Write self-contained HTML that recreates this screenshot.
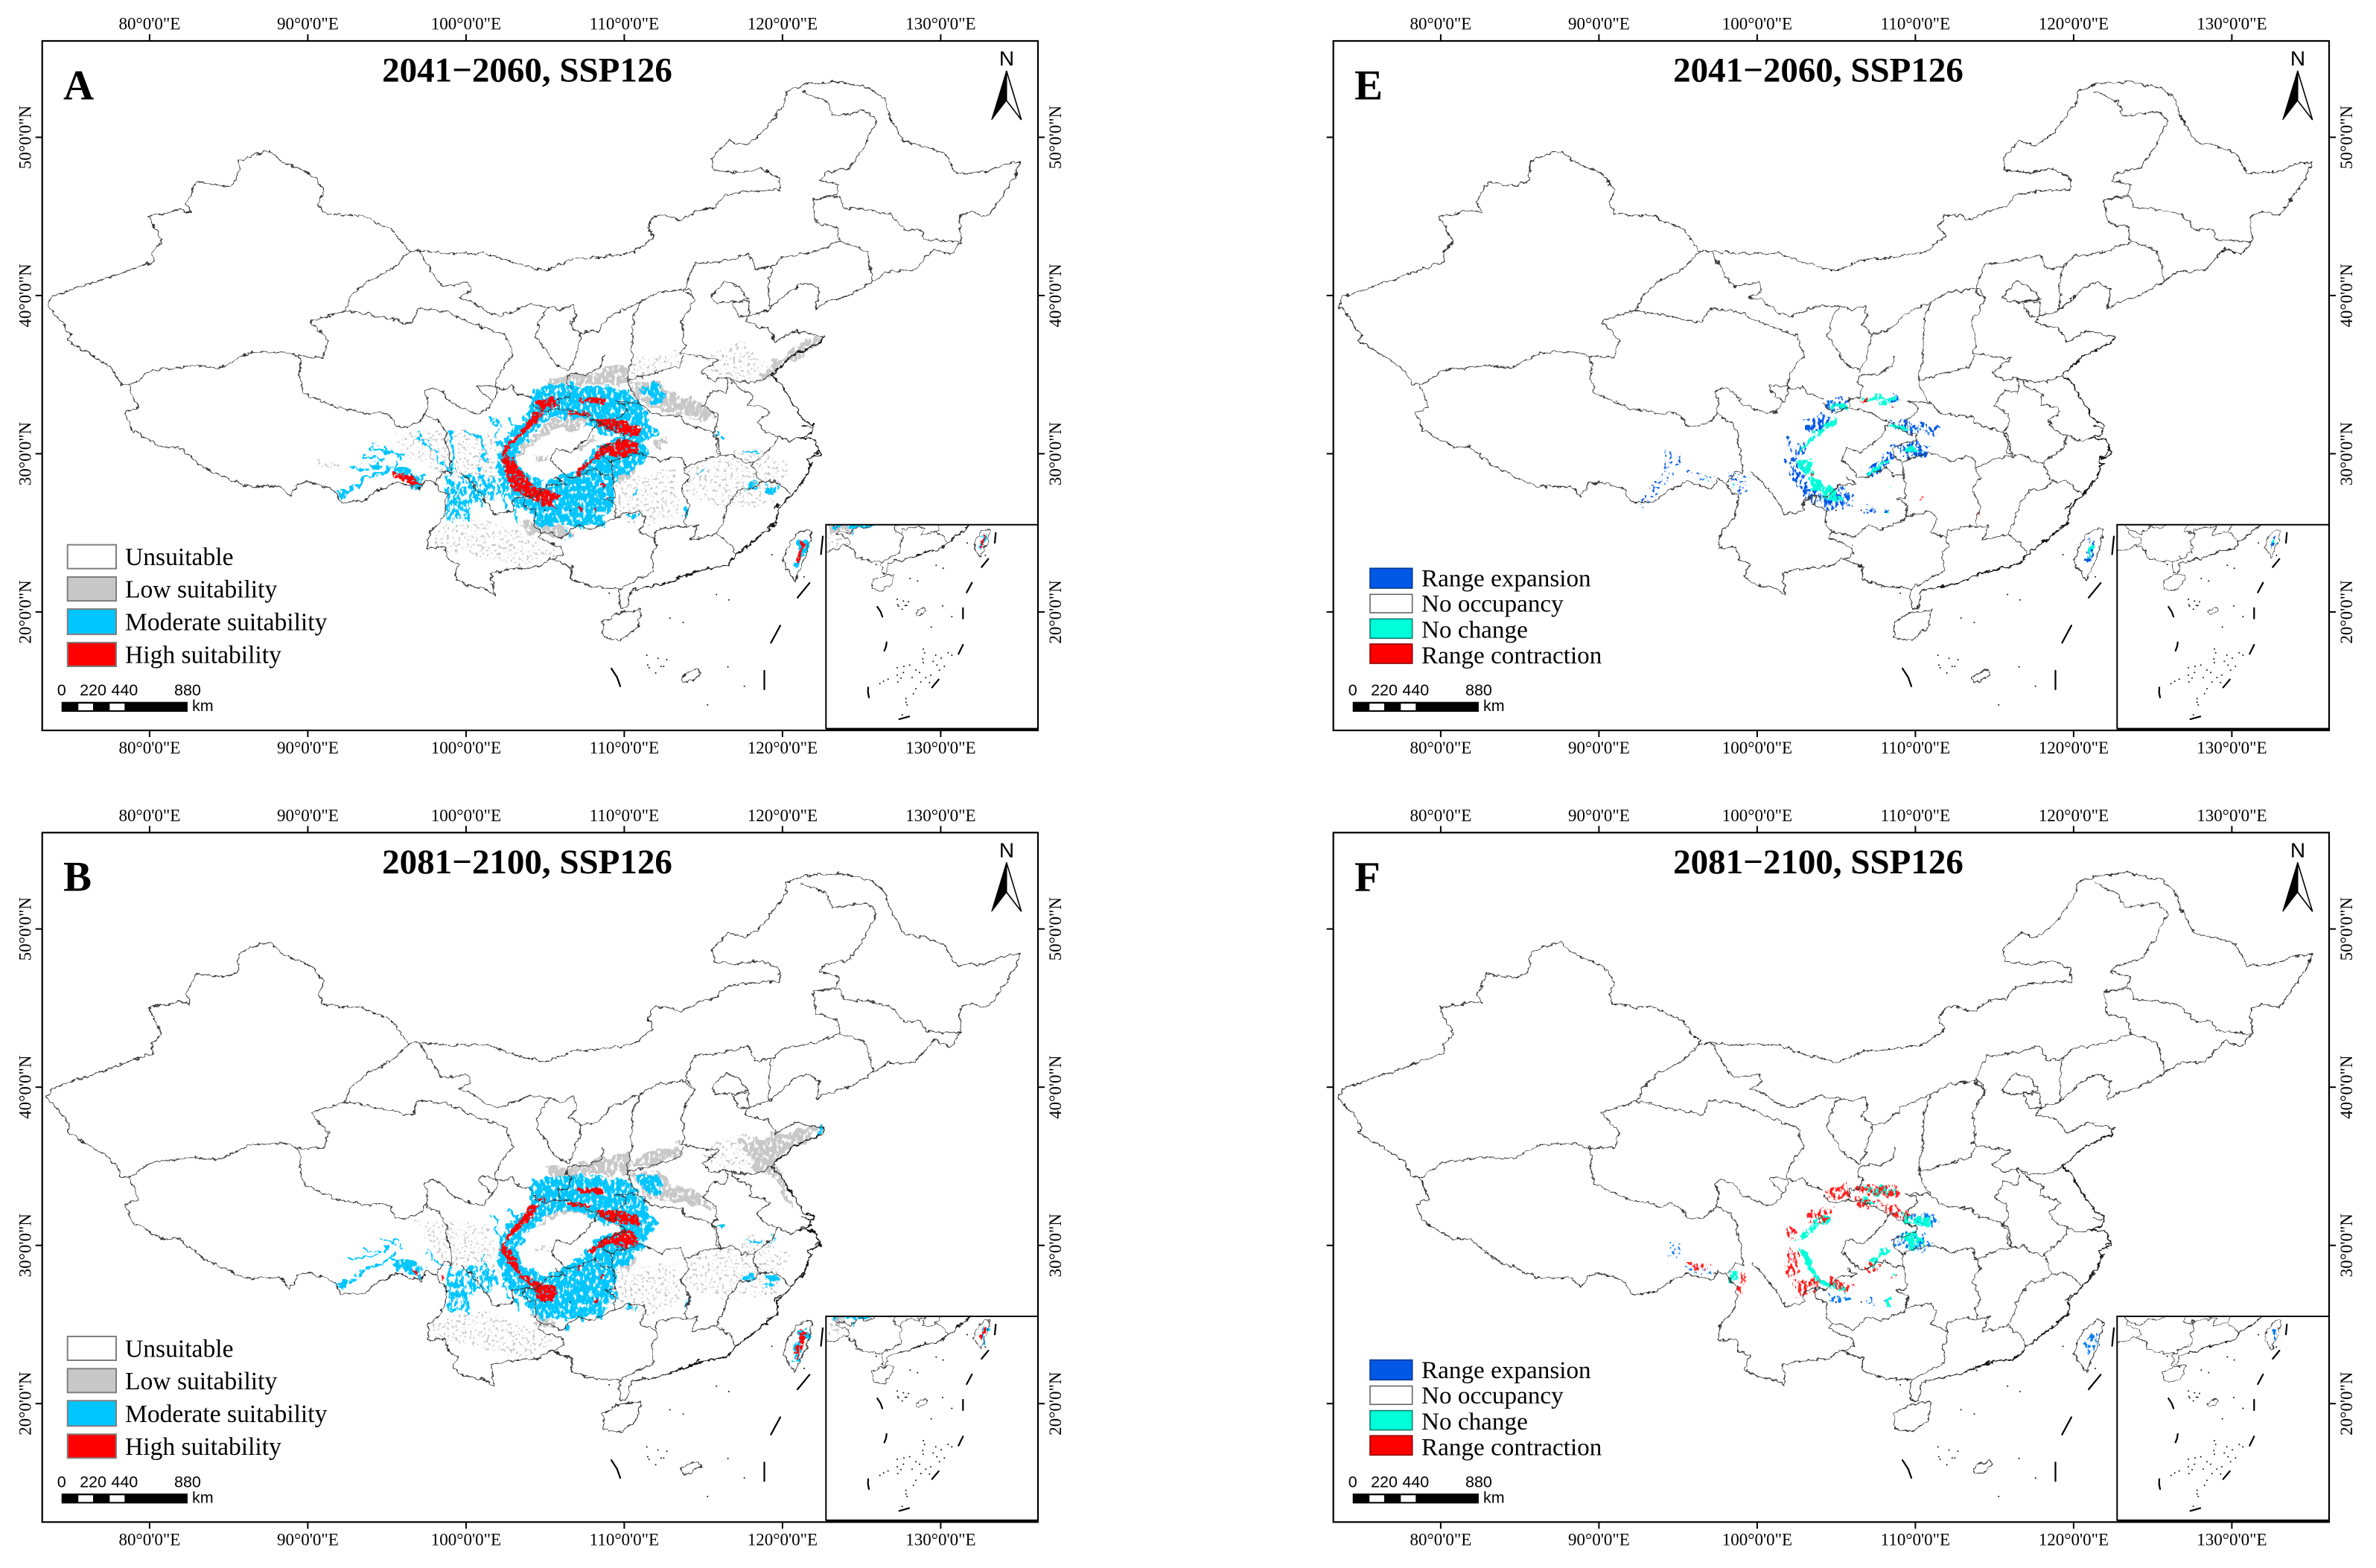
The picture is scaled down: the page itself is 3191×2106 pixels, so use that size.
<!DOCTYPE html>
<html lang="en">
<head>
<meta charset="utf-8">
<title>Projected suitability maps, SSP126</title>
<style>
html,body{margin:0;padding:0;background:#fff;width:3191px;height:2106px;overflow:hidden}
svg{display:block;position:absolute;left:0;top:0}
</style>
</head>
<body>
<svg id="figure" xmlns="http://www.w3.org/2000/svg" width="3191" height="2106" viewBox="0 0 3191 2106">
<defs>
<filter id="rough-line" color-interpolation-filters="sRGB">
<feTurbulence type="fractalNoise" baseFrequency="0.13" numOctaves="3" seed="4" result="n"/>
<feDisplacementMap in="SourceGraphic" in2="n" scale="8" xChannelSelector="R" yChannelSelector="G"/>
</filter>
<filter id="tex-solid" color-interpolation-filters="sRGB">
<feTurbulence type="fractalNoise" baseFrequency="0.16" numOctaves="3" seed="7" result="n"/>
<feDisplacementMap in="SourceGraphic" in2="n" scale="9" xChannelSelector="R" yChannelSelector="G" result="d"/>
<feTurbulence type="fractalNoise" baseFrequency="0.25" numOctaves="3" seed="11"/>
<feColorMatrix type="matrix" values="0 0 0 0 0 0 0 0 0 0 0 0 0 0 0 0 0 0 10 -3.0" result="m"/>
<feComposite in="d" in2="m" operator="in"/>
</filter>
<filter id="tex-dense" color-interpolation-filters="sRGB">
<feTurbulence type="fractalNoise" baseFrequency="0.08" numOctaves="3" seed="3" result="n"/>
<feDisplacementMap in="SourceGraphic" in2="n" scale="18" xChannelSelector="R" yChannelSelector="G" result="d"/>
<feTurbulence type="fractalNoise" baseFrequency="0.24 0.14" numOctaves="3" seed="8"/>
<feColorMatrix type="matrix" values="0 0 0 0 0 0 0 0 0 0 0 0 0 0 0 0 0 0 9 -2.9" result="m"/>
<feComposite in="d" in2="m" operator="in"/>
</filter>
<filter id="tex-mid" color-interpolation-filters="sRGB">
<feTurbulence type="fractalNoise" baseFrequency="0.08" numOctaves="3" seed="5" result="n"/>
<feDisplacementMap in="SourceGraphic" in2="n" scale="18" xChannelSelector="R" yChannelSelector="G" result="d"/>
<feTurbulence type="fractalNoise" baseFrequency="0.26 0.14" numOctaves="3" seed="14"/>
<feColorMatrix type="matrix" values="0 0 0 0 0 0 0 0 0 0 0 0 0 0 0 0 0 0 12 -5.6" result="m"/>
<feComposite in="d" in2="m" operator="in"/>
</filter>
<filter id="tex-sparse" color-interpolation-filters="sRGB">
<feTurbulence type="fractalNoise" baseFrequency="0.06" numOctaves="2" seed="9" result="n"/>
<feDisplacementMap in="SourceGraphic" in2="n" scale="14" xChannelSelector="R" yChannelSelector="G" result="d"/>
<feTurbulence type="fractalNoise" baseFrequency="0.26" numOctaves="3" seed="21"/>
<feColorMatrix type="matrix" values="0 0 0 0 0 0 0 0 0 0 0 0 0 0 0 0 0 0 14 -8.4" result="m"/>
<feComposite in="d" in2="m" operator="in"/>
</filter>
</defs>
</svg>
<script>
const SVGNS = 'http://www.w3.org/2000/svg';
const SERIF = '"Liberation Serif", "Times New Roman", serif';
const SANS = '"Liberation Sans", Arial, sans-serif';

/* ---------- axis data ---------- */
const lonTicks = [80, 90, 100, 110, 120, 130];
const lonTickLabels = ['80°0\'0"E', '90°0\'0"E', '100°0\'0"E', '110°0\'0"E', '120°0\'0"E', '130°0\'0"E'];
const latTicks = [20, 30, 40, 50];
const latTickLabels = ['20°0\'0"N', '30°0\'0"N', '40°0\'0"N', '50°0\'0"N'];

/* ---------- legend / titles ---------- */
const suitLabels = ['Unsuitable', 'Low suitability', 'Moderate suitability', 'High suitability'];
const suitColors = ['#ffffff', '#c8c8c8', '#00c5ff', '#ff0000'];
const changeLabels = ['Range expansion', 'No occupancy', 'No change', 'Range contraction'];
const changeColors = ['#0058e6', '#ffffff', '#00ffd9', '#ff0000'];
const changeBorders = ['#00388f', '#666666', '#0b7f70', '#8f0000'];
const scaleKm = [0, 220, 440, 880];
const scaleWhiteKm = [[117, 220], [336, 440]];

/* ---------- digitising frames: trace units -> panel-A reference pixels ---------- */
const traceFrames = {
  a: {sx: 1.104, sy: 1.5077, ox: 0, oy: 0},
  b: {sx: 2.178, sy: 3, ox: 400, oy: 450},
  c: {sx: 3, sy: 3, ox: 506, oy: 478},
  d: {sx: 2.178, sy: 3, ox: 400, oy: 448.7},
  f: {sx: 3, sy: 3, ox: 506, oy: 476.7},
  g: {sx: 1.68, sy: 1.68, ox: 574.07, oy: 656.86}
};

/* ---------- basemap, digitised ---------- */
const nationalBorder = [
  ['a',478,430,472,410,480,385,462,352,440,340,415,325,400,305,380,312,355,325,352,365,335,377,315,375,292,368,275,410,283,430,265,425,245,432,220,438,232,470,240,490,225,510,228,530,205,540,175,555,145,570,125,578,100,590,78,600,70,620,90,650,105,680,100,690,130,715,165,745,180,778,190,780,205,825,185,835,195,870,240,905,265,905,300,945,340,970,365,985,415,985,430,1005,441,980],
  ['b',0,600,30,590,80,610,105,625,125,675,190,670,230,630,290,590,330,610,360,620,375,580,405,600,415,630,435,640,430,720,410,765,385,790,378,860,430,855,440,905,470,925,455,975,490,1005,545,1020,575,1045,565,960,610,945,650,940,700,935,740,900,800,935,800,985,870,1015,945,1020],
  ['a',921,1191,918,1195,920,1232,930,1232,935,1195,960,1188],
  ['a',1222,682,1180,670,1150,692,1138,665,1105,655,1110,640,1140,627,1170,590,1195,570,1215,585,1210,625,1225,612,1255,600,1295,570,1315,550,1355,548,1385,503,1408,517,1425,490,1422,440,1440,428,1465,437,1487,395,1505,358,1513,328,1490,332,1460,348,1418,352,1400,310,1375,297,1340,287,1320,240,1310,200,1290,178,1240,165,1195,170,1165,185,1165,205,1155,225,1130,270,1105,295,1080,285,1055,320,1060,345,1095,350,1130,342,1155,360,1157,385,1120,385,1075,395,1060,420,1035,425,1010,445,985,435,970,437,960,460,970,480,940,510]
];
const dashedBorder = [
  ['a',940,510,900,520,850,525,808,548,770,535,745,525,725,513,660,513,622,508,607,510,595,490,580,462,560,452,535,435,510,437,478,430]
];
const coastline = [
  ['b',1022,1014,1080,1000,1120,975,1150,960,1190,945,1260,925,1280,885,1330,835,1365,795,1400,760,1405,700,1440,650,1470,600,1490,560,1500,520,1490,500,1530,480,1510,420,1465,415,1500,400,1510,360,1480,345,1445,270,1410,190,1385,160,1450,80,1530,30,1537,8],
  ['b',1510,480,1525,465],['b',1495,530,1505,515],['b',1480,590,1470,610],['b',1410,680,1395,700],['b',1405,755,1375,775],['b',1340,820,1325,835],['b',1170,945,1135,975],['b',1500,375,1475,365]
];
const provinceLines = [
  ['a',607,510,580,545,545,570,520,600,512,628],
  ['a',512,628,460,650,487,690,480,722,445,722],
  ['a',445,722,420,712,370,715,325,745,290,740,225,750,200,775,190,780],
  ['a',512,628,560,640,610,655,620,625,660,630,700,655,750,680,761,719,746,744,736,769,735,782,737,795,731,814],
  ['b',0,85,10,120,5,160,15,230,60,260,120,295,170,305,210,322,240,310,270,325,285,365,320,370,360,345,372,318],
  ['b',372,318,380,270,370,230,390,212,420,225,445,270,480,295,520,315,545,310,570,270],
  ['b',570,270,530,220,528,205,565,205,600,220,625,205,640,235,685,255],
  ['b',372,318,415,350,435,400,430,420,445,480,450,560,430,545,405,590],
  ['c',340,470,380,510,430,570,450,600,470,640,520,630,550,625,545,580,600,565],
  ['c',600,565,590,600,640,625,635,680,660,710,650,730],
  ['c',650,730,690,750,745,770,750,800,710,820],
  ['c',600,565,640,570,690,520,760,515,720,490],
  ['c',700,420,725,370,780,390,830,350,880,290,890,265,965,310,1000,320,1000,340,905,370,905,400,945,430,950,480,905,480,880,450,820,480,770,490,720,440,700,420],
  ['c',630,190,640,210,680,225,720,210,770,215,830,235,880,265],
  ['c',915,0,905,40,850,75,790,70,770,80,765,110,785,125,770,170,730,170,735,205],
  ['c',700,5,715,30,745,50,770,62,795,25,800,0],
  ['c',1030,0,1012,60,1010,100,1030,150,1058,190],
  ['c',1010,100,1130,65,1220,40,1235,0],
  ['c',1058,190,960,185,1000,200,1005,225,965,255,965,290],
  ['c',1058,190,1100,230,1160,240,1230,245,1235,270,1330,300,1370,320,1385,400],
  ['c',945,430,970,415,1030,400,1055,390,1100,405,1145,425,1180,410,1225,405,1245,450],
  ['c',945,430,955,520,960,570,920,575,965,600,960,650],
  ['c',960,650,930,670,860,700,810,680,745,735,700,715,660,710],
  ['c',960,650,1000,635,1060,630,1085,655,1060,710,1120,735],
  ['c',710,820,790,850,785,890],
  ['b',1045,815,1050,850,1035,880,1040,950,945,1020],
  ['b',1045,815,1050,785,1105,770,1140,775],
  ['b',1130,535,1145,575,1120,620,1145,690,1130,750,1140,775],
  ['b',1140,775,1170,765,1150,825,1190,815,1225,800],
  ['b',1225,800,1270,850,1280,880],
  ['b',1355,590,1330,620,1290,625,1260,680,1240,760,1225,800],
  ['b',1130,535,1200,495,1240,490],
  ['b',1210,395,1225,370,1225,320,1185,285,1215,220,1250,235,1260,205,1250,170],
  ['b',1120,70,1190,90,1235,95,1180,150,1215,185,1250,170],
  ['b',1250,170,1285,190,1340,190,1385,160],
  ['b',1255,170,1290,215,1330,240,1320,280,1365,290,1380,310,1345,345,1360,385,1400,405],
  ['b',1400,405,1440,430,1465,415],
  ['b',1210,395,1225,420,1225,470,1240,490],
  ['b',1240,490,1270,480,1300,510,1330,515],
  ['b',1330,515,1370,470,1390,450,1400,405],
  ['b',1330,515,1340,560,1355,590],
  ['b',1355,590,1400,590,1440,640],
  ['a',1190,185,1225,205,1235,235,1285,225,1300,245,1280,300,1260,340,1225,350,1215,365,1245,375,1240,395,1205,405],
  ['a',1205,405,1245,398,1250,420,1290,425,1320,435,1340,465,1365,465,1372,485,1425,490],
  ['a',1205,405,1210,450,1240,460,1245,490],
  ['a',1245,490,1270,500,1285,510,1295,570],
  ['a',1245,490,1205,510,1160,520,1145,540],
  ['a',1030,605,1015,590,1020,565,1030,535,1065,530,1085,525,1110,515,1120,545,1145,540],
  ['a',950,612,975,592,1020,585,1030,605],
  ['a',1030,605,1010,650,1015,700,1010,715],
  ['a',862,675,885,670,905,640,935,620,950,612],
  ['a',950,612,940,640,936,700,938,721],
  ['a',795,682,800,650,815,620,832,628,850,618,855,640,845,658,862,675],
  ['a',795,682,805,700,816,723],
  ['a',862,675,858,700,853,721],
  ['a',622,508,640,550,655,580,695,572,697,590,680,602,700,610,725,635,740,640,785,617,815,620],
  ['a',1145,540,1140,565,1140,625],
  ['a',1055,600,1075,570,1095,580,1110,605,1085,612,1060,612,1055,600],
  ['a',1085,612,1110,610,1110,640,1095,640,1085,612]
];
const islandOutlines = [
  ['b',1490,780,1505,790,1495,840,1490,880,1470,940,1455,990,1440,960,1420,915,1430,860,1460,800,1490,780],
  ['a',920,1240,950,1235,945,1270,920,1297,895,1290,893,1260,920,1240],
  ['g',572,425,590,412,612,407,616,418,598,432,578,436,572,425]
];
const dashLines = [
  ['g',415,405,428,425,435,445],['g',452,548,450,565,443,582],['g',378,730,377,750,381,770],['g',503,858,543,847],
  ['g',635,730,662,698],['g',742,595,760,558],['g',760,410,760,452],['g',775,347,796,308],['g',835,245,862,212],['g',888,147,892,107]
];
const islandDots = ['g',
  495,375,520,382,540,385,497,397,500,403,527,400,533,400,515,415,652,238,680,250,547,291,577,301,678,401,715,445,632,487,410,235,
  600,575,605,590,598,615,600,630,650,600,700,590,715,600,672,612,640,625,655,640,685,645,665,660,545,640,522,645,495,650,520,670,
  495,680,570,660,585,670,555,690,630,680,610,690,590,708,497,708,510,692,425,715,440,705,458,697,530,775,530,790,535,800,515,840,
  560,755,570,735,625,710,265,48,322,48,777,148,850,198];

/* ---------- panel A: 2041-2060 suitability ---------- */
const lowDenseA = [
  ['b',1380,120,1440,55,1520,5,1535,15,1480,75,1410,130,1395,160,1340,190,1345,170,1375,150],
  ['b',965,190,1060,185,1090,240,1150,255,1195,295,1225,335,1190,350,1120,320,1060,300,1000,265],
  ['b',640,455,700,395,745,340,800,325,865,350,810,385,745,375,700,420,655,480,640,500],
  ['b',720,175,790,160,850,165,900,135,960,125,975,190,900,200,800,190,730,200],
  ['b',790,625,860,610,875,650,810,670],
  ['b',640,760,700,740,790,780,800,810,720,810,680,800],
  ['b',930,545,990,525,1000,555,940,590],
  ['b',1045,420,1075,415,1070,450,1048,450],
  ['b',815,450,860,410,870,420,825,470],
  ['b',690,490,735,490,730,510,695,510]
];
const lowSparseA = [
  ['b',970,100,1130,60,1130,110,1050,160,975,185],
  ['b',390,790,540,740,720,830,760,880,650,930,480,880,400,860],
  ['b',270,400,440,380,580,400,590,590,430,560,330,500],
  ['b',1190,90,1300,20,1370,120,1340,180,1250,170,1180,130],
  ['b',1150,540,1330,450,1440,520,1390,690,1250,700,1130,640],
  ['b',930,590,1100,540,1120,720,1000,780,930,700],
  ['b',55,505,130,515,135,530,60,530]
];
const moderateA = [
  ['b',680,230,740,200,800,195,880,205,960,215,1000,270,1040,370,1050,400,1010,440,1020,480,1000,530,950,560,925,600,925,700,890,760,840,780,780,760,700,780,680,720,640,690,600,640,590,560,580,470,620,390,650,350,690,270,680,230,
       640,500,650,540,700,590,730,600,760,575,810,545,850,500,880,440,960,405,880,395,870,370,830,335,750,330,690,390,640,460,640,500],
  ['b',1000,200,1050,195,1075,250,1050,275,1010,240],
  ['b',1370,605,1400,605,1395,640,1370,640],
  ['b',1220,400,1245,405,1235,425],
  ['b',1300,615,1340,590,1345,600,1310,630],
  ['b',1130,700,1145,700,1135,740],
  ['b',955,720,1000,720,975,745],
  ['b',985,625,1000,620,980,660],
  ['b',1295,475,1350,465,1345,480],
  ['b',1180,545,1195,540,1165,570],
  ['b',1462,825,1490,825,1495,850,1475,900,1465,935,1450,920,1460,870],
  ['b',105,630,150,620,185,580,240,550,270,530,285,495,290,515,250,560,195,590,155,630,130,655],
  ['b',265,535,300,530,345,560,375,570,365,610,340,610,300,575]
];
const moderateBlockA = [
  ['b',430,600,500,560,585,580,580,655,500,680,500,750,440,740]
];
const moderateStreaksA = [
  ['b',215,450,270,470,310,492],['b',190,490,255,510],['b',145,535,225,530,265,490],
  ['b',345,390,385,450,425,510,440,545],['b',445,390,452,470,445,570],['b',500,380,540,430,545,510],
  ['b',565,335,590,370,575,420,595,445,585,470],['b',620,340,650,372,615,395],['b',445,570,442,740],
  ['b',465,600,462,720],['b',482,620,497,755],['b',520,640,540,690],['b',600,640,618,710],['b',640,700,645,750],
  ['b',780,760,785,790],['b',890,770,900,765],['b',790,800,785,830],
  ['b',505,555,510,640],['b',535,540,550,650],['b',562,570,572,650],['b',585,590,590,650]
];
const highA = [
  ['b',690,310,720,310,700,350,660,400,620,445,610,480,630,500,660,560,690,610,730,620,770,650,740,670,760,695,720,690,680,660,650,640,620,610,610,560,595,500,605,450,650,390,680,340],
  ['b',695,265,750,250,760,285,710,305],
  ['b',790,300,860,320,850,330,790,315],
  ['b',820,260,900,250,900,280,830,270],
  ['b',870,340,920,335,1010,370,1000,410,950,400,880,370],
  ['b',960,420,990,430,1000,470,940,495,900,480,870,500,820,570,810,550,860,500,885,450,950,420],
  ['b',865,695,878,695,872,720],['b',822,695,832,695,830,715],['b',885,600,900,600,892,620],
  ['b',270,550,340,570,360,610,330,600,280,570],
  ['b',1470,825,1485,840,1470,900,1460,925,1455,905,1470,860]
];

/* ---------- panel B: 2081-2100 suitability ---------- */
const lowDenseB = [
  ['d',1290,70,1400,30,1530,0,1530,15,1470,75,1400,130,1440,300,1450,330,1420,280,1380,190,1340,190,1320,120],
  ['d',720,170,800,165,880,130,960,110,990,170,970,195,850,195,740,200],
  ['d',970,190,1060,190,1090,240,1150,250,1200,300,1225,335,1120,320,1020,290],
  ['d',690,420,740,340,850,330,870,360,800,360,730,370],
  ['d',680,760,730,770,750,810,700,800],
  ['d',1000,125,1120,70,1130,115,1050,155,970,185],
  ['d',940,540,1000,530,1000,550,950,580],
  ['d',800,620,860,620,860,660]
];
const lowSparseB = [
  ['d',390,790,540,740,720,830,760,880,650,930,480,880,400,860],
  ['d',340,380,440,380,560,400,590,590,430,560],
  ['d',1190,90,1300,20,1370,120,1340,180,1250,170,1180,130],
  ['d',1150,540,1330,450,1440,520,1390,690,1250,700,1130,640],
  ['d',930,590,1100,540,1120,720,1000,780,930,700],
  ['d',690,480,740,490,735,510,690,510]
];
const moderateB = [
  ['d',680,230,720,205,800,195,880,205,960,215,1000,270,1040,370,1050,400,1015,440,1020,480,990,520,950,570,925,610,930,700,890,760,830,780,780,770,700,780,670,710,630,680,595,620,590,560,580,470,620,400,680,320,680,230,
       640,500,650,560,700,590,735,600,790,560,840,520,880,450,960,405,880,400,870,380,840,355,760,345,700,380,640,500],
  ['d',985,200,1050,195,1075,250,1050,275,1000,240],
  ['d',1370,605,1400,605,1395,640,1370,640],
  ['d',1220,400,1245,405,1235,425],
  ['d',1300,615,1340,590,1345,600,1310,630],
  ['d',1130,700,1145,700,1135,740],
  ['d',955,720,1000,720,975,745],
  ['d',1310,470,1350,465,1345,480],
  ['d',1380,455,1400,450,1385,465],
  ['d',1465,825,1490,825,1495,850,1475,900,1465,945,1450,950,1460,870],
  ['d',105,630,150,620,185,580,240,550,270,530,285,495,290,515,250,560,195,590,155,630,130,655],
  ['d',265,535,300,530,345,560,375,570,365,610,340,610,300,575],
  ['d',1520,10,1540,5,1535,40,1518,38]
];
const moderateBlockB = [
  ['d',430,610,500,560,585,580,580,655,500,680,500,750,440,740]
];
const moderateStreaksB = [
  ['d',240,460,280,470,305,490],['d',190,490,255,510],['d',145,535,225,530,265,490],
  ['d',375,500,420,560],['d',445,560,442,740],['d',465,600,462,720],['d',482,620,497,755],
  ['d',540,510,560,650],['d',510,570,520,650],['d',565,360,590,380,575,420,595,445,585,470],
  ['d',620,340,650,372,615,395],['d',600,640,618,710],['d',640,700,645,750],['d',780,760,785,790],['d',790,800,785,830]
];
const highB = [
  ['d',680,320,710,320,670,390,610,460,600,490,620,490,640,540,655,600,690,620,720,640,760,650,750,700,710,710,680,640,650,610,620,560,590,500,610,450],
  ['d',700,290,720,285,725,300,705,305],
  ['d',810,255,890,250,895,275,830,270],
  ['d',790,305,860,320,850,330,790,318],
  ['d',870,340,930,340,1000,370,1000,400,960,400,880,370],
  ['d',960,420,990,430,995,470,950,495,920,470,860,510,845,505,890,460,950,420],
  ['d',815,570,830,560,820,585],['d',865,700,878,695,872,720],['d',885,600,900,600,892,620],
  ['d',335,580,355,590,350,615],['d',420,600,430,610,425,630],
  ['d',1468,825,1490,835,1475,890,1462,935,1452,905,1470,860]
];

/* ---------- panel E: 2041-2060 range change ---------- */
const expansionE = [
  ['c',630,180,720,165,725,210,660,225,635,205],
  ['c',550,260,600,240,680,235,640,275,590,305,550,300],
  ['c',470,320,490,320,505,380,490,385],
  ['c',495,380,540,345,560,370,525,410,500,420],
  ['c',480,420,530,430,560,500,520,520,490,480],
  ['c',520,510,580,510,610,560,600,600,540,570],
  ['c',600,560,700,530,750,560,740,615,640,625],
  ['c',885,255,970,260,1095,285,1075,325,1000,310,930,300],
  ['c',890,365,1000,340,1060,370,1045,410,980,415,930,380],
  ['c',795,610,830,610,832,635,800,630],
  ['c',900,160,940,165,925,200,895,190],
  ['c',870,610,890,610,888,635,872,635],
  ['c',790,470,880,400,900,380,905,420,830,495],
  ['b',1460,830,1480,830,1470,900,1460,925,1450,915]
];
const expansionWestE = [
  ['c',60,460,190,480,175,525,90,490],
  ['c',240,460,330,480,320,560,280,560,250,520],
  ['c',-130,590,-60,520,0,450,20,480,-40,560,-110,610],
  ['c',-10,370,50,400,50,440,-10,450]
];
const stableE = [
  ['c',680,250,640,272,600,305,560,345,525,380,540,395,575,355,620,310,660,285],
  ['c',520,420,575,420,585,470,610,510,690,560,710,585,650,580,590,540,565,490,530,450],
  ['c',800,470,880,410,885,425,820,480],
  ['c',640,195,720,195,710,215,660,215],
  ['c',770,165,860,165,920,170,915,190,800,185],
  ['c',890,265,960,280,1000,310,960,305,900,290],
  ['c',905,520,920,520,915,538,905,535],
  ['c',875,620,890,615,888,635,875,635],
  ['c',940,370,1040,380,1000,400],
  ['b',1465,850,1478,850,1465,905,1458,900]
];
const stableWestE = [
  ['c',240,520,270,510,270,550,245,550],
  ['c',120,480,180,495,170,520]
];
const contractionE = [
  ['c',770,180,800,175,800,185],['c',895,205,905,205,905,215],['c',490,410,500,410,500,420],
  ['c',1015,570,1025,570,1025,575],['c',1250,625,1258,625,1255,640],['c',575,470,590,475,585,485]
];

/* ---------- panel F: 2081-2100 range change ---------- */
const stableF = [
  ['f',640,270,600,295,565,330,520,375,535,390,575,350,620,310,655,285],
  ['f',525,415,575,420,580,470,610,520,700,570,740,565,720,590,650,570,590,540,560,480,535,440],
  ['f',800,470,880,410,890,420,820,480],
  ['f',780,170,840,165,920,170,915,190,800,190],
  ['f',760,205,850,230,800,235],
  ['f',900,260,960,280,1000,305,950,300],
  ['f',880,620,890,620,888,635,880,635],
  ['f',905,520,920,520,915,535],
  ['f',250,510,270,510,265,550,245,545],
  ['f',970,280,1060,290,1040,320,990,310],
  ['f',930,360,1000,345,1040,400,980,410]
];
const expansionF = [
  ['f',890,255,1000,270,1090,285,1070,325,1000,315,920,290],
  ['f',890,370,1000,340,1060,380,1040,420,960,410,920,395],
  ['f',640,590,740,610,720,630,660,630],
  ['f',800,610,830,610,830,635,805,630],
  ['f',880,620,890,620,888,635],
  ['b',1462,835,1490,835,1480,900,1460,930,1450,915]
];
const expansionWestF = [
  ['f',60,480,180,490,170,525,110,500],
  ['f',-5,370,60,400,40,440,-5,470]
];
const contractionF = [
  ['f',630,170,720,155,735,210,650,215],
  ['f',760,165,930,160,930,205,760,190],
  ['f',750,210,870,215,880,240,770,240],
  ['f',560,270,670,240,650,290,580,310],
  ['f',475,330,500,330,520,370,495,380],
  ['f',485,400,530,440,520,530,480,520],
  ['f',510,540,600,530,600,590,520,600],
  ['f',640,520,760,560,720,590,650,560],
  ['f',290,500,320,520,310,560,290,600,285,550],
  ['f',60,460,190,480,100,490],
  ['f',880,240,990,260,950,300,900,290],
  ['f',790,480,860,470,840,505,800,510],
  ['f',905,520,920,515,915,530]
];

/* ---------- panels ---------- */
const PANEL_DX = 1734;
const PANEL_DY = 1063.3;
const panels = [
  {id:'a', letter:'A', title:'2041\u22122060, SSP126', dx:0, dy:0, leftLabels:true, kind:'suit',
   layers:[{c:'#c8c8c8', f:'tex-sparse', polys:lowSparseA},{c:'#c8c8c8', f:'tex-dense', polys:lowDenseA},
           {c:'#00c5ff', f:'tex-mid', polys:moderateBlockA},
           {c:'#00c5ff', f:'tex-dense', polys:moderateA, streaks:moderateStreaksA},{c:'#ff0000', f:'tex-solid', polys:highA}]},
  {id:'b', letter:'B', title:'2081\u22122100, SSP126', dx:0, dy:PANEL_DY, leftLabels:true, kind:'suit',
   layers:[{c:'#c8c8c8', f:'tex-sparse', polys:lowSparseB},{c:'#c8c8c8', f:'tex-dense', polys:lowDenseB},
           {c:'#00c5ff', f:'tex-mid', polys:moderateBlockB},
           {c:'#00c5ff', f:'tex-dense', polys:moderateB, streaks:moderateStreaksB},{c:'#ff0000', f:'tex-solid', polys:highB}]},
  {id:'e', letter:'E', title:'2041\u22122060, SSP126', dx:PANEL_DX, dy:0, leftLabels:false, kind:'change',
   layers:[{c:'#0058e6', f:'tex-sparse', polys:expansionWestE},{c:'#0058e6', f:'tex-mid', polys:expansionE},{c:'#00ffd9', f:'tex-sparse', polys:stableWestE},{c:'#00ffd9', f:'tex-dense', polys:stableE},{c:'#ff0000', f:'tex-solid', polys:contractionE}]},
  {id:'f', letter:'F', title:'2081\u22122100, SSP126', dx:PANEL_DX, dy:PANEL_DY, leftLabels:false, kind:'change',
   layers:[{c:'#0c7cf0', f:'tex-sparse', polys:expansionWestF},{c:'#0c7cf0', f:'tex-mid', polys:expansionF},{c:'#00ffd9', f:'tex-dense', polys:stableF},{c:'#ff2020', f:'tex-mid', polys:contractionF}]}
];

/* ---------- axis functions ---------- */
const FRAME_BOTTOM = 978;
function lonX(lon){ return 200.9 + (lon - 80) * 21.25; }
function latY(lat){ return 184.4 + (50 - lat) * 21.25; }
function insetLonX(lon){ return 1185 + (lonX(lon) - 833) * 0.56; }
function insetLatY(lat){ return 782 + (latY(lat) - 839) * 0.56; }
function scaleX(km){ return 82.7 + km * 0.1923; }
function traceToLonLat(frame, x, y){
  const f = traceFrames[frame];
  const px = x / f.sx + f.ox;
  const py = y / f.sy + f.oy;
  return [80 + (px - 200.9) / 21.25, 50 - (py - 184.4) / 21.25];
}
const MAIN_AXES = {x: lonX, y: latY};
const INSET_AXES = {x: insetLonX, y: insetLatY};

function lineInsideFrame(line, axes){
  for (let i = 1; i + 1 < line.length; i += 2){
    const ll = traceToLonLat(line[0], line[i], line[i + 1]);
    if (axes.y(ll[1]) > FRAME_BOTTOM) return false;
  }
  return true;
}

function pathData(lines, axes, dx, dy, close){
  let d = '';
  lines.forEach(function(line){
    const frame = line[0];
    for (let i = 1; i + 1 < line.length; i += 2){
      const ll = traceToLonLat(frame, line[i], line[i + 1]);
      d += (i === 1 ? 'M' : 'L') + (axes.x(ll[0]) + dx).toFixed(1) + ' ' + (axes.y(ll[1]) + dy).toFixed(1);
    }
    if (close) d += 'Z';
  });
  return d;
}

function make(tag, attrs, parent, text){
  const node = document.createElementNS(SVGNS, tag);
  Object.keys(attrs).forEach(function(k){ node.setAttribute(k, attrs[k]); });
  if (text !== undefined) node.textContent = text;
  parent.appendChild(node);
  return node;
}

const root = document.getElementById('figure');
const defs = root.querySelector('defs');

function drawGeography(parent, p, axes, lineW, lineFilter, tag){
  const dx = p.dx, dy = p.dy;
  p.layers.forEach(function(layer){
    const g = make('g', {filter:'url(#' + layer.f + ')', fill:layer.c, stroke:'none'}, parent);
    
    
    const poly = make('path', {d:pathData(layer.polys, axes, dx, dy, true), 'fill-rule':'evenodd'}, g);
    
    
    if (layer.streaks){
      const st = make('path', {d:pathData(layer.streaks, axes, dx, dy, false), fill:'none', stroke:layer.c, 'stroke-width':tag === 'inset' ? 1.8 : 3.4, 'stroke-linejoin':'round'}, g);
      
      
    }
  });

  const lg = make('g', {filter:lineFilter, fill:'none', 'stroke-linejoin':'round', 'stroke-linecap':'round'}, parent);
  
  
  const prov = make('path', {d:pathData(provinceLines, axes, dx, dy, false), stroke:'#3a3a3a', 'stroke-width':lineW}, lg);
  
  
  const nat = make('path', {d:pathData(nationalBorder, axes, dx, dy, false), stroke:'#2e2e2e', 'stroke-width':lineW}, lg);
  
  
  const coast = make('path', {d:pathData(coastline, axes, dx, dy, false), stroke:'#111', 'stroke-width':lineW * 1.35}, lg);
  
  
  const isl = make('path', {d:pathData(islandOutlines, axes, dx, dy, false), stroke:'#333', 'stroke-width':lineW}, lg);
  
  
  const dashed = make('path', {d:pathData(dashedBorder, axes, dx, dy, false), fill:'none', stroke:'#222', 'stroke-width':lineW, 'stroke-dasharray':'7 2'}, lg);
  
  
  const visibleDashes = dashLines.filter(function(line){ return lineInsideFrame(line, axes); });
  const dl = make('path', {d:pathData(visibleDashes, axes, dx, dy, false), fill:'none', stroke:'#000', 'stroke-width':2.2, 'stroke-linecap':'round'}, parent);
  
  
  for (let i = 1; i + 1 < islandDots.length; i += 2){
    const ll = traceToLonLat(islandDots[0], islandDots[i], islandDots[i + 1]);
    if (axes.y(ll[1]) > FRAME_BOTTOM) continue;
    const dot = make('circle', {cx:(axes.x(ll[0]) + dx).toFixed(1), cy:(axes.y(ll[1]) + dy).toFixed(1), r:1, fill:'#111'}, parent);
    
    
  }
}

panels.forEach(function(p){
  const dx = p.dx, dy = p.dy;
  const L = 56.7 + dx, R = 1394 + dx, T = 55 + dy, B = 981 + dy;
  const IL = 1109.3 + dx, IT = 704.7 + dy, IB = 979.3 + dy;

  const group = make('g', {}, root);
  
  

  const cpMain = make('clipPath', {id:'clip-main-' + p.id}, defs);
  make('rect', {x:L, y:T, width:R - L, height:B - T}, cpMain);
  const cpInset = make('clipPath', {id:'clip-inset-' + p.id}, defs);
  make('rect', {x:IL, y:IT, width:R - IL, height:IB - IT}, cpInset);

  const mapG = make('g', {'clip-path':'url(#clip-main-' + p.id + ')'}, group);
  
  
  drawGeography(mapG, p, MAIN_AXES, 1.25, 'url(#rough-line)', 'main');

  const insetBg = make('rect', {x:IL, y:IT, width:R - IL, height:IB - IT, fill:'#fff'}, group);
  
  
  const insetG = make('g', {'clip-path':'url(#clip-inset-' + p.id + ')'}, group);
  
  
  drawGeography(insetG, p, INSET_AXES, 0.95, 'url(#rough-line)', 'inset');
  const insetBox = make('path', {d:'M' + IL + ' ' + IB + 'V' + IT + 'H' + R, fill:'none', stroke:'#000', 'stroke-width':2}, group);
  
  
  const insetBottom = make('line', {x1:IL, x2:R, y1:IB, y2:IB, stroke:'#000', 'stroke-width':3.4}, group);
  
  

  const frame = make('rect', {x:L, y:T, width:R - L, height:B - T, fill:'none', stroke:'#000', 'stroke-width':2.2}, group);
  
  

  lonTicks.forEach(function(lon, i){
    const x = lonX(lon) + dx;
    const t1 = make('line', {x1:x, x2:x, y1:T - 9, y2:T, stroke:'#000', 'stroke-width':2}, group);
    
    
    const t2 = make('line', {x1:x, x2:x, y1:B, y2:B + 9, stroke:'#000', 'stroke-width':2}, group);
    
    
    const l1 = make('text', {x:x, y:39.5 + dy, 'text-anchor':'middle', 'font-family':SERIF, 'font-size':23, fill:'#000'}, group, lonTickLabels[i]);
    
    
    const l2 = make('text', {x:x, y:1012 + dy, 'text-anchor':'middle', 'font-family':SERIF, 'font-size':23, fill:'#000'}, group, lonTickLabels[i]);
    
    
  });

  latTicks.forEach(function(lat, i){
    const y = latY(lat) + dy;
    const t1 = make('line', {x1:L - 9, x2:L, y1:y, y2:y, stroke:'#000', 'stroke-width':2}, group);
    
    
    const t2 = make('line', {x1:R, x2:R + 9, y1:y, y2:y, stroke:'#000', 'stroke-width':2}, group);
    
    
    if (p.leftLabels){
      const lx = 41.5 + dx;
      const l1 = make('text', {x:lx, y:y, 'text-anchor':'middle', 'font-family':SERIF, 'font-size':23, fill:'#000', transform:'rotate(-90 ' + lx + ' ' + y + ')'}, group, latTickLabels[i]);
      
      
    }
    const rx = 1425 + dx;
    const l2 = make('text', {x:rx, y:y, 'text-anchor':'middle', 'font-family':SERIF, 'font-size':23, fill:'#000', transform:'rotate(-90 ' + rx + ' ' + y + ')'}, group, latTickLabels[i]);
    
    
  });

  const title = make('text', {x:708 + dx, y:109.5 + dy, 'text-anchor':'middle', 'font-family':SERIF, 'font-size':47, 'font-weight':'bold', fill:'#000'}, group, p.title);
  
  
  const letter = make('text', {x:85 + dx, y:133.4 + dy, 'font-family':SERIF, 'font-size':57, 'font-weight':'bold', fill:'#000'}, group, p.letter);
  
  

  /* north arrow */
  const nLabel = make('text', {x:1352 + dx, y:88 + dy, 'text-anchor':'middle', 'font-family':SANS, 'font-size':28, fill:'#000'}, group, 'N');
  
  
  const ax = 1351.7 + dx, ay = 95 + dy;
  const arrowL = make('path', {d:'M' + ax + ' ' + ay + 'L' + (ax - 20) + ' ' + (ay + 66) + 'L' + ax + ' ' + (ay + 40) + 'Z', fill:'#000', stroke:'#000', 'stroke-width':1}, group);
  
  
  const arrowR = make('path', {d:'M' + ax + ' ' + ay + 'L' + (ax + 20) + ' ' + (ay + 66) + 'L' + ax + ' ' + (ay + 40) + 'Z', fill:'#fff', stroke:'#000', 'stroke-width':1.6}, group);
  
  

  /* legend */
  if (p.kind === 'suit'){
    const boxY = [731.7, 775, 818, 863];
    const boxH = [32, 32, 34, 32];
    const baseY = [759, 802.7, 846.7, 890.7];
    suitLabels.forEach(function(label, i){
      const sw = make('rect', {x:90.7 + dx, y:boxY[i] + dy, width:65.3, height:boxH[i], fill:suitColors[i], stroke:'#7f7f7f', 'stroke-width':2}, group);
      
      
      const t = make('text', {x:168 + dx, y:baseY[i] + dy, 'font-family':SERIF, 'font-size':33.6, fill:'#000'}, group, label);
      
      
    });
  } else {
    const boxY = [763.3, 798.3, 831.3, 865];
    const boxH = [26.7, 24.7, 26, 26];
    const baseY = [787.7, 821.7, 856.7, 891];
    changeLabels.forEach(function(label, i){
      const sw = make('rect', {x:106 + dx, y:boxY[i] + dy, width:56.7, height:boxH[i], fill:changeColors[i], stroke:changeBorders[i], 'stroke-width':1.6}, group);
      
      
      const t = make('text', {x:175 + dx, y:baseY[i] + dy, 'font-family':SERIF, 'font-size':33.2, fill:'#000'}, group, label);
      
      
    });
  }

  /* scale bar */
  const bar = make('rect', {x:scaleX(0) + dx, y:942.7 + dy, width:scaleX(880) - scaleX(0), height:13.3, fill:'#000'}, group);
  
  
  scaleWhiteKm.forEach(function(seg){
    const w = make('rect', {x:scaleX(seg[0]) + dx, y:945 + dy, width:scaleX(seg[1]) - scaleX(seg[0]), height:9, fill:'#fff'}, group);
    
    
  });
  scaleKm.forEach(function(km){
    const t = make('text', {x:scaleX(km) + dx, y:934 + dy, 'text-anchor':'middle', 'font-family':SANS, 'font-size':21.5, fill:'#000'}, group, String(km));
    
    
  });
  const km = make('text', {x:258 + dx, y:955 + dy, 'font-family':SANS, 'font-size':21.5, fill:'#000'}, group, 'km');
  
  
});
</script>
</body>
</html>
